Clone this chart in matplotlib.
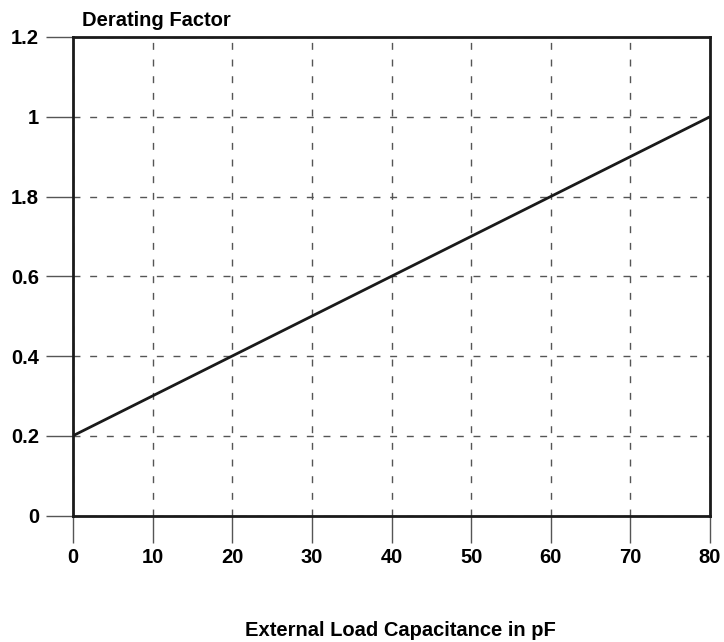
import matplotlib
matplotlib.use("Agg")
import matplotlib.pyplot as plt

capacitance = [0, 80]
derating = [0.2, 1.0]
x_ticks = [0, 10, 20, 30, 40, 50, 60, 70, 80]
y_ticks = [0, 0.2, 0.4, 0.6, 0.8, 1.0, 1.2]
y_tick_labels = ["0", "0.2", "0.4", "0.6", "1.8", "1", "1.2"]

plt.rcParams['font.family'] = ['Liberation Sans', 'DejaVu Sans']
plt.rcParams['font.weight'] = 'bold'

FS = 14.5
fig = plt.figure(figsize=(7.24, 6.42), dpi=100)
ax = fig.add_axes([73/724, 1 - 515.5/642, (710-73)/724, (515.5-37)/642])

ax.plot(capacitance, derating, color='#1a1a1a', lw=2.0, solid_capstyle='butt', zorder=3)
ax.set_xlim(0, 80)
ax.set_ylim(0, 1.2)
ax.set_xticks(x_ticks)
ax.set_xticklabels([str(v) for v in x_ticks], fontsize=FS, fontweight='bold')
ax.set_yticks(y_ticks)
ax.set_yticklabels(y_tick_labels, fontsize=FS, fontweight='bold')

ax.grid(True, color='#555555', linestyle=(0, (5, 7)), lw=1.0)
for s in ax.spines.values():
    s.set_linewidth(2.0)
    s.set_color('#1a1a1a')
ax.tick_params(axis='both', direction='out', length=19.5, width=1.0, color='#555555')
ax.tick_params(axis='y', pad=5)
ax.tick_params(axis='x', pad=4)

fig.text(82/724, 1 - 20/642, "Derating Factor", fontsize=FS, fontweight='bold', ha='left', va='center')
fig.text(400/724, 1 - 630/642, "External Load Capacitance in pF", fontsize=FS, fontweight='bold', ha='center', va='center')

fig.savefig("out.png", dpi=100)
